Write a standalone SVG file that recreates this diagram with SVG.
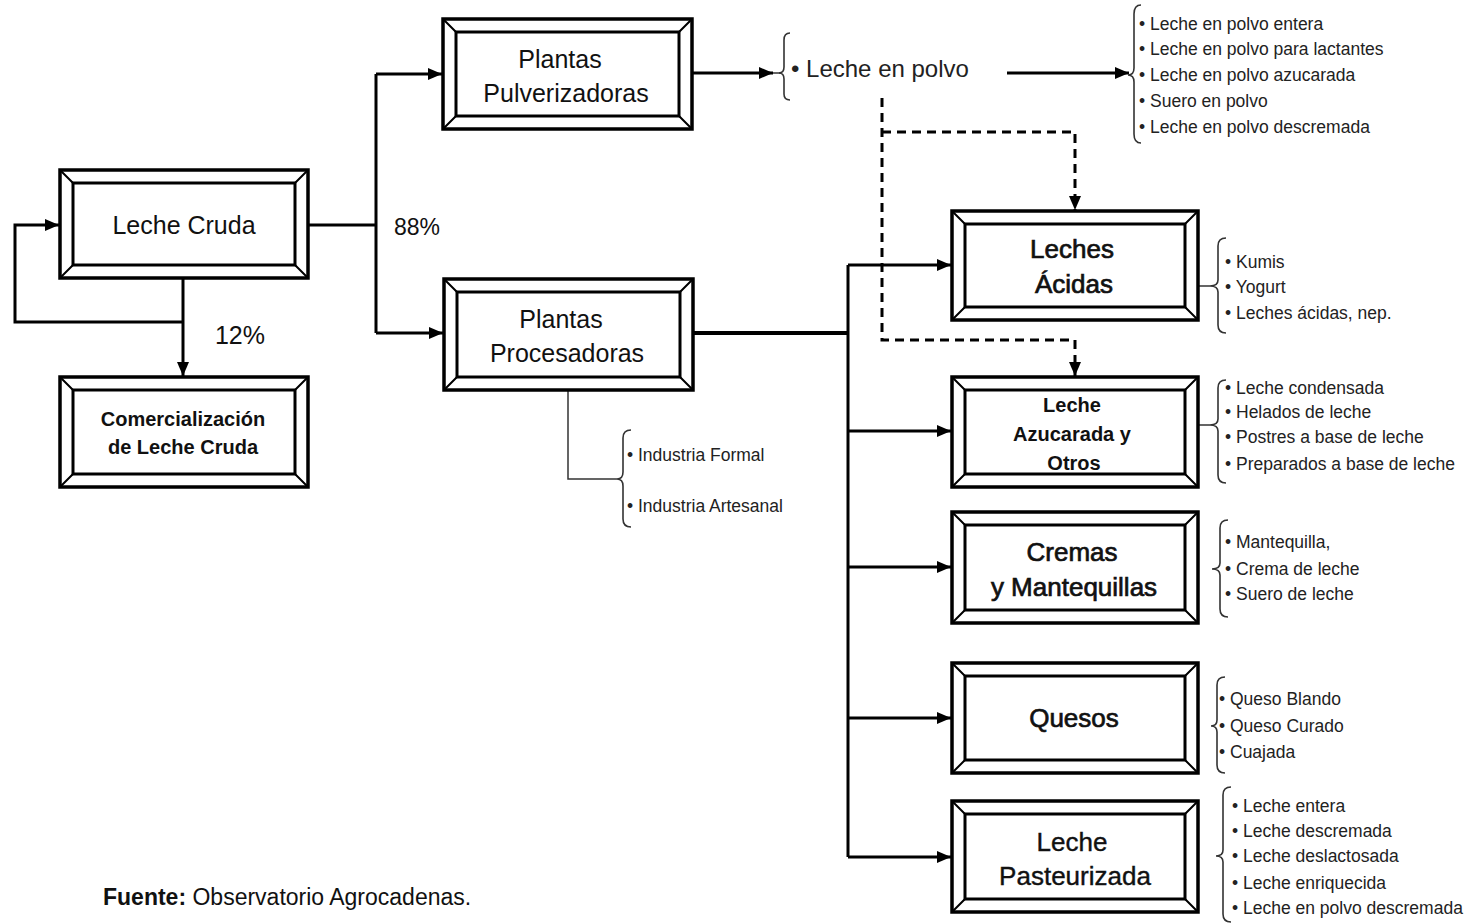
<svg xmlns="http://www.w3.org/2000/svg" width="1473" height="924" viewBox="0 0 1473 924">
<defs>
<marker id="ah" markerUnits="userSpaceOnUse" markerWidth="14" markerHeight="12" refX="14" refY="6" orient="auto">
<path d="M0,0 L14,6 L0,12 z" fill="#000"/>
</marker>
<style>
.o{fill:#fff;stroke:#000;stroke-width:3.5}
.i{fill:none;stroke:#000;stroke-width:3}
.d{stroke:#000;stroke-width:2}
.c{fill:none;stroke:#000;stroke-width:3}
.cb{fill:none;stroke:#000;stroke-width:4}
.dash{fill:none;stroke:#000;stroke-width:3;stroke-dasharray:9,6}
.thin{fill:none;stroke:#333;stroke-width:1.5}
.br{fill:none;stroke:#333;stroke-width:1.6}
.t{font-family:"Liberation Sans",Arial,sans-serif;fill:#111;text-anchor:middle}
.tr{font-size:25px}
.th{font-size:26px;stroke:#111;stroke-width:0.7}
.tb{font-weight:bold;font-size:20px}
.it{font-family:"Liberation Sans",Arial,sans-serif;font-size:17.5px;fill:#222}
</style>
</defs>
<rect width="1473" height="924" fill="#fff"/>

<g id="connectors">
<path class="c" d="M308,225 H376 M376,74 V333"/>
<path class="c" d="M376,74 H442" marker-end="url(#ah)"/>
<path class="c" d="M376,333 H443" marker-end="url(#ah)"/>
<path class="c" d="M183,278 V376" marker-end="url(#ah)"/>
<path class="c" d="M183,322 H15 V225 H59" marker-end="url(#ah)"/>
<path class="c" d="M693,73 H773" marker-end="url(#ah)"/>
<path class="c" d="M1007,73 H1129" marker-end="url(#ah)"/>
<path class="dash" d="M882,98 V340 H1075 V376" marker-end="url(#ah)"/>
<path class="dash" d="M882,132 H1075 V210" marker-end="url(#ah)"/>
<path class="cb" d="M693,333 H848"/>
<path class="c" d="M848,265 V857"/>
<path class="c" d="M848,265 H951" marker-end="url(#ah)"/>
<path class="c" d="M848,431 H951" marker-end="url(#ah)"/>
<path class="c" d="M848,567 H951" marker-end="url(#ah)"/>
<path class="c" d="M848,718 H951" marker-end="url(#ah)"/>
<path class="c" d="M848,857 H951" marker-end="url(#ah)"/>
<path class="thin" d="M568,390 V479 H617"/>
<path class="thin" d="M773,73 H781 M1198,286 H1210 M1198,425 H1210"/>
</g>

<g id="leche-cruda">
<rect class="o" x="60" y="170" width="248" height="108"/>
<rect class="i" x="73" y="183" width="222" height="82"/>
<path class="d" d="M60,170 L73,183 M308,170 L295,183 M60,278 L73,265 M308,278 L295,265"/>
<text class="t tr" x="184" y="234">Leche Cruda</text>
</g>

<g id="comercializacion">
<rect class="o" x="60" y="377" width="248" height="110"/>
<rect class="i" x="73" y="390" width="222" height="84"/>
<path class="d" d="M60,377 L73,390 M308,377 L295,390 M60,487 L73,474 M308,487 L295,474"/>
<text class="t tb" x="183" y="426">Comercialización</text>
<text class="t tb" x="183" y="454">de Leche Cruda</text>
</g>

<g id="plantas-pulverizadoras">
<rect class="o" x="443" y="19" width="249" height="110"/>
<rect class="i" x="456" y="32" width="223" height="84"/>
<path class="d" d="M443,19 L456,32 M692,19 L679,32 M443,129 L456,116 M692,129 L679,116"/>
<text class="t tr" x="560" y="68">Plantas</text>
<text class="t tr" x="566" y="102">Pulverizadoras</text>
</g>

<g id="plantas-procesadoras">
<rect class="o" x="444" y="279" width="249" height="111"/>
<rect class="i" x="457" y="292" width="223" height="85"/>
<path class="d" d="M444,279 L457,292 M693,279 L680,292 M444,390 L457,377 M693,390 L680,377"/>
<text class="t tr" x="561" y="328">Plantas</text>
<text class="t tr" x="567" y="362">Procesadoras</text>
</g>

<g id="leche-en-polvo">
<path class="br" d="M790,33 Q784,33 784,40 L784,67 Q784,73 779,73 Q784,73 784,79 L784,94 Q784,100 790,100"/>
<text class="it" x="791" y="77" style="font-size:24px">• Leche en polvo</text>
</g>

<g id="polvo-items">
<path class="br" d="M1141,5 Q1134,5 1134,14 L1134,68 Q1134,75 1128,75 Q1134,75 1134,82 L1134,134 Q1134,143 1141,143"/>
<text class="it" x="1139" y="30">• Leche en polvo entera</text>
<text class="it" x="1139" y="55">• Leche en polvo para lactantes</text>
<text class="it" x="1139" y="81">• Leche en polvo azucarada</text>
<text class="it" x="1139" y="107">• Suero en polvo</text>
<text class="it" x="1139" y="133">• Leche en polvo descremada</text>
</g>

<g id="industria">
<path class="br" d="M631,430 Q623,430 623,438 L623,472 Q623,479 617,479 Q623,479 623,486 L623,519 Q623,527 631,527"/>
<text class="it" x="627" y="461">• Industria Formal</text>
<text class="it" x="627" y="512">• Industria Artesanal</text>
</g>

<g id="leches-acidas">
<rect class="o" x="952" y="211" width="246" height="109"/>
<rect class="i" x="965" y="224" width="220" height="83"/>
<path class="d" d="M952,211 L965,224 M1198,211 L1185,224 M952,320 L965,307 M1198,320 L1185,307"/>
<text class="t th" x="1072" y="258">Leches</text>
<text class="t th" x="1074" y="293">Ácidas</text>
</g>
<g id="leches-acidas-items">
<path class="br" d="M1226,238 Q1218,238 1218,246 L1218,280 Q1218,286 1210,286 Q1218,286 1218,292 L1218,325 Q1218,333 1226,333"/>
<text class="it" x="1225" y="268">• Kumis</text>
<text class="it" x="1225" y="293">• Yogurt</text>
<text class="it" x="1225" y="319">• Leches ácidas, nep.</text>
</g>

<g id="leche-azucarada">
<rect class="o" x="952" y="377" width="246" height="110"/>
<rect class="i" x="965" y="390" width="220" height="84"/>
<path class="d" d="M952,377 L965,390 M1198,377 L1185,390 M952,487 L965,474 M1198,487 L1185,474"/>
<text class="t tb" x="1072" y="412">Leche</text>
<text class="t tb" x="1072" y="441">Azucarada y</text>
<text class="t tb" x="1074" y="470">Otros</text>
</g>
<g id="leche-azucarada-items">
<path class="br" d="M1226,380 Q1218,380 1218,388 L1218,419 Q1218,425 1210,425 Q1218,425 1218,431 L1218,475 Q1218,483 1226,483"/>
<text class="it" x="1225" y="394">• Leche condensada</text>
<text class="it" x="1225" y="418">• Helados de leche</text>
<text class="it" x="1225" y="443">• Postres a base de leche</text>
<text class="it" x="1225" y="470">• Preparados a base de leche</text>
</g>

<g id="cremas">
<rect class="o" x="952" y="512" width="246" height="111"/>
<rect class="i" x="965" y="525" width="220" height="85"/>
<path class="d" d="M952,512 L965,525 M1198,512 L1185,525 M952,623 L965,610 M1198,623 L1185,610"/>
<text class="t th" x="1072" y="561">Cremas</text>
<text class="t th" x="1074" y="596">y Mantequillas</text>
</g>
<g id="cremas-items">
<path class="br" d="M1228,520 Q1220,520 1220,528 L1220,563 Q1220,569 1212,569 Q1220,569 1220,575 L1220,609 Q1220,617 1228,617"/>
<text class="it" x="1225" y="548">• Mantequilla,</text>
<text class="it" x="1225" y="575">• Crema de leche</text>
<text class="it" x="1225" y="600">• Suero de leche</text>
</g>

<g id="quesos">
<rect class="o" x="952" y="663" width="246" height="110"/>
<rect class="i" x="965" y="676" width="220" height="84"/>
<path class="d" d="M952,663 L965,676 M1198,663 L1185,676 M952,773 L965,760 M1198,773 L1185,760"/>
<text class="t th" x="1074" y="727">Quesos</text>
</g>
<g id="quesos-items">
<path class="br" d="M1225,677 Q1217,677 1217,685 L1217,720 Q1217,726 1211,726 Q1217,726 1217,732 L1217,765 Q1217,773 1225,773"/>
<text class="it" x="1219" y="705">• Queso Blando</text>
<text class="it" x="1219" y="732">• Queso Curado</text>
<text class="it" x="1219" y="758">• Cuajada</text>
</g>

<g id="leche-pasteurizada">
<rect class="o" x="952" y="801" width="246" height="111"/>
<rect class="i" x="965" y="814" width="220" height="85"/>
<path class="d" d="M952,801 L965,814 M1198,801 L1185,814 M952,912 L965,899 M1198,912 L1185,899"/>
<text class="t th" x="1072" y="851" style="stroke-width:0.4">Leche</text>
<text class="t th" x="1075" y="885" style="stroke-width:0.4">Pasteurizada</text>
</g>
<g id="leche-pasteurizada-items">
<path class="br" d="M1231,787 Q1223,787 1223,795 L1223,850 Q1223,856 1216,856 Q1223,856 1223,862 L1223,914 Q1223,922 1231,922"/>
<text class="it" x="1232" y="812">• Leche entera</text>
<text class="it" x="1232" y="837">• Leche descremada</text>
<text class="it" x="1232" y="862">• Leche deslactosada</text>
<text class="it" x="1232" y="889">• Leche enriquecida</text>
<text class="it" x="1232" y="914">• Leche en polvo descremada</text>
</g>

<g id="labels">
<text class="t" x="417" y="235" style="font-size:23px">88%</text>
<text class="t" x="240" y="344" style="font-size:25px">12%</text>
<text x="103" y="905" style="font-family:'Liberation Sans',Arial,sans-serif;font-size:23px;fill:#111"><tspan font-weight="bold">Fuente:</tspan> Observatorio Agrocadenas.</text>
</g>
</svg>
